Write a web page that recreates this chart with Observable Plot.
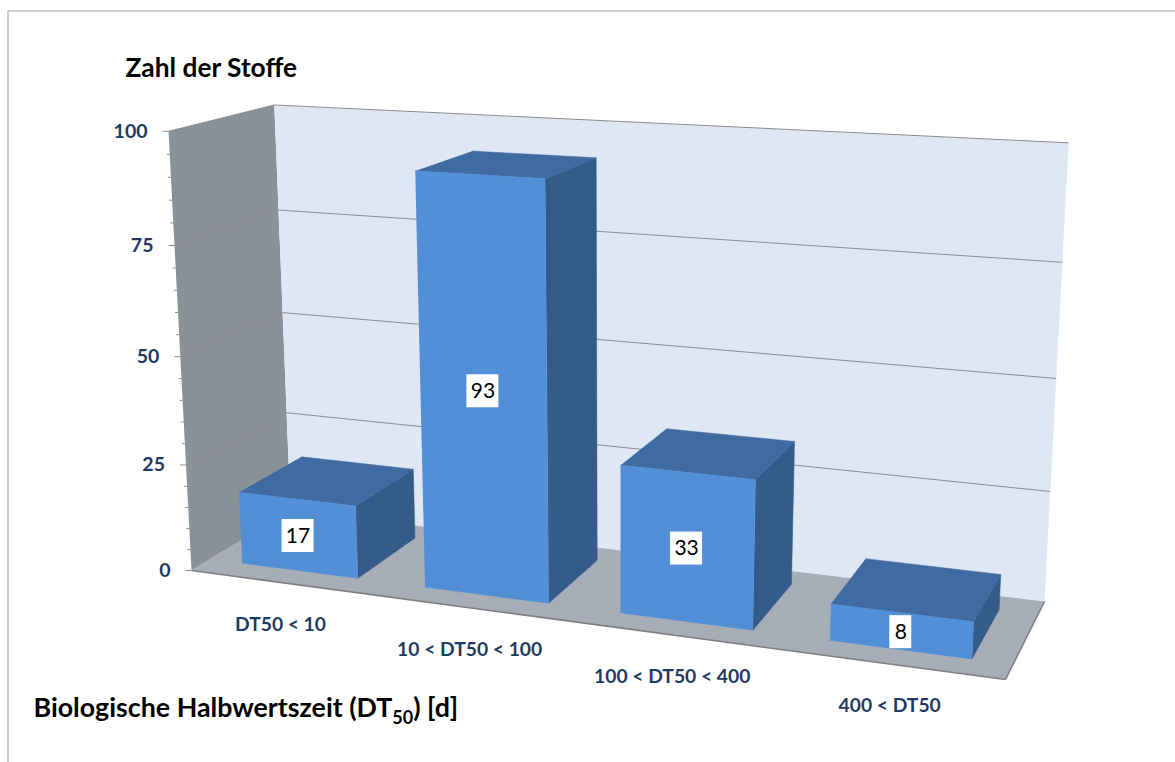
<!DOCTYPE html>
<html lang="de">
<head>
<meta charset="utf-8">
<title>Zahl der Stoffe</title>
<script src="https://cdn.jsdelivr.net/npm/d3@7"></script>
<script src="https://cdn.jsdelivr.net/npm/@observablehq/plot@0.6"></script>
<style>
  html, body { margin: 0; padding: 0; background: #fff; }
  svg { display: block; }
</style>
</head>
<body>
<div id="chart"></div>
<script>
// Chart data
const categories = ["DT50 < 10", "10 < DT50 < 100", "100 < DT50 < 400", "400 < DT50"];
const counts = [17, 93, 33, 8];
const majorTicks = [0, 25, 50, 75, 100];
const minorTicks = [5, 10, 15, 20, 30, 35, 40, 45, 55, 60, 65, 70, 80, 85, 90, 95];
const valueMax = 100;

// Camera: where the floor corners and the vertical vanishing point fall on the page
const floorFrontLeft = [191, 570];
const floorFrontRight = [1005, 679];
const floorBackRight = [1044, 601];
const floorBackLeft = [290, 510];
const wallTopBackLeft = 103;
const wallTopBackRight = 144;
const verticalVanish = [617, 8709];
const barInset = 0.18;   // share of a category cell left free on each side

const colors = {
  sideWall: "#8b9199",
  backWall: "#dee7f3",
  floor: "#a7adb6",
  grid: "#8c8c8c",
  sideGrid: "#8f8a87",
  floorEdge: "#7d7d7d",
  frame: "#bfbfbf",
  front: "#538fd7",
  top: "#406ba2",
  side: "#345b8a",
  axisText: "#1f3a5f"
};

// Perspective mapping of the unit floor square (closed-form square-to-quad)
const [x0, y0] = floorFrontLeft, [x1, y1] = floorFrontRight,
      [x2, y2] = floorBackRight, [x3, y3] = floorBackLeft;
const dx1 = x1 - x2, dx2 = x3 - x2, sx = x0 - x1 + x2 - x3;
const dy1 = y1 - y2, dy2 = y3 - y2, sy = y0 - y1 + y2 - y3;
const det = dx1 * dy2 - dx2 * dy1;
const g = (sx * dy2 - dx2 * sy) / det, h = (dx1 * sy - sx * dy1) / det;
const a = x1 - x0 + g * x1, b = x3 - x0 + h * x3;
const d = y1 - y0 + g * y1, e = y3 - y0 + h * y3;

// Rise per unit of height, taken from the two rear wall corners
const riseAt = (floorY, topY, w) => -(floorY - topY) * w / (verticalVanish[1] - topY);
const rise = (riseAt(y3, wallTopBackLeft, h + 1) + riseAt(y2, wallTopBackRight, g + h + 1)) / 2;

// (category position, depth 0..1, value) -> page position
function project(cat, depth, value) {
  const u = cat / categories.length, v = depth, s = (value / valueMax) * rise;
  const W = g * u + h * v + 1 + s;
  return [
    (a * u + b * v + x0 + s * verticalVanish[0]) / W,
    (d * u + e * v + y0 + s * verticalVanish[1]) / W
  ];
}

// Polygons are rows of {x, y, face, color}, one closed outline per face
const faces = [];
function addFace(face, color, corners) {
  for (const [c, dp, val] of corners) {
    const [x, y] = project(c, dp, val);
    faces.push({x, y, face, color});
  }
}
const n = categories.length;

addFace("side wall", colors.sideWall, [[0, 0, 0], [0, 1, 0], [0, 1, valueMax], [0, 0, valueMax]]);
addFace("back wall", colors.backWall, [[0, 1, 0], [n, 1, 0], [n, 1, valueMax], [0, 1, valueMax]]);
addFace("floor", colors.floor, [[0, 0, 0], [n, 0, 0], [n, 1, 0], [0, 1, 0]]);

const barFaces = [];
function addBar(i, value) {
  const l = i + barInset, r = i + 1 - barInset, f = barInset, k = 1 - barInset;
  const start = faces.length;
  addFace(`bar ${i} side`, colors.side, [[r, f, 0], [r, k, 0], [r, k, value], [r, f, value]]);
  addFace(`bar ${i} top`, colors.top, [[l, f, value], [r, f, value], [r, k, value], [l, k, value]]);
  addFace(`bar ${i} front`, colors.front, [[l, f, 0], [r, f, 0], [r, f, value], [l, f, value]]);
  barFaces.push(...faces.splice(start));
}
counts.forEach((value, i) => addBar(i, value));

// Grid lines run from the wall's front edge to the rear corner and across the back wall
const link = (from, to, extra = {}) => {
  const [px, py] = project(...from), [qx, qy] = project(...to);
  return {x1: px, y1: py, x2: qx, y2: qy, ...extra};
};
const sideGrid = majorTicks.filter(t => t > 0).map(t => link([0, 0, t], [0, 1, t]));
const backGrid = majorTicks.filter(t => t > 0).map(t => link([0, 1, t], [n, 1, t]));
const floorEdge = [link([0, 0, 0], [n, 0, 0]), link([n, 0, 0], [n, 1, 0])];

const tickMarks = (values, len) => values.map(t => {
  const [x, y] = project(0, 0, t);
  return {x1: x - len, y1: y, x2: x, y2: y};
});

const tickLabels = majorTicks.map(t => {
  const [x, y] = project(0, 0, t);
  return {x: x - 21, y, text: String(t)};
});
const categoryLabels = categories.map((text, i) => {
  const [x, y] = project(i + 0.5, 0, 0);
  return {x: x - 1, y: y + 42, text};
});
const valueLabels = counts.map((value, i) => {
  const [x, y] = project(i + 0.5, barInset, value / 2);
  const half = String(value).length > 1 ? 16 : 11;
  return {x, y: y + 1, text: String(value), x1: x - half, x2: x + half, y1: y + 1 - 16.5, y2: y + 1 + 16.5};
});

// Frame of the chart area: left and top only
const frame = [{x: 7.5, y: 762}, {x: 7.5, y: 10.5}, {x: 1175, y: 10.5}];
const yTitle = [{x: 125, y: 68, text: "Zahl der Stoffe"}];
const xTitle = [{x: 33, y: 708, text: "Biologische Halbwertszeit (DT50) [d]"}];

const fontFamily = "Lato, 'Open Sans', sans-serif";

const chart = Plot.plot({
  width: 1175,
  height: 762,
  margin: 0,
  style: {background: "#fff"},
  x: {domain: [0, 1175], range: [0, 1175], axis: null},
  y: {domain: [0, 762], range: [0, 762], axis: null},
  color: {type: "identity"},
  marks: [
    Plot.line(frame, {x: "x", y: "y", stroke: colors.frame, strokeWidth: 1.5}),
    Plot.line(faces, {x: "x", y: "y", z: "face", fill: "color", stroke: "none"}),
    Plot.link(sideGrid, {x1: "x1", y1: "y1", x2: "x2", y2: "y2", stroke: colors.sideGrid, strokeWidth: 1}),
    Plot.link(backGrid, {x1: "x1", y1: "y1", x2: "x2", y2: "y2", stroke: colors.grid, strokeWidth: 1}),
    Plot.link(floorEdge, {x1: "x1", y1: "y1", x2: "x2", y2: "y2", stroke: colors.floorEdge, strokeWidth: 1.5}),
    Plot.link(tickMarks(majorTicks, 6), {x1: "x1", y1: "y1", x2: "x2", y2: "y2", stroke: colors.grid, strokeWidth: 1}),
    Plot.link(tickMarks(minorTicks, 3), {x1: "x1", y1: "y1", x2: "x2", y2: "y2", stroke: colors.grid, strokeWidth: 1}),
    Plot.line(barFaces, {x: "x", y: "y", z: "face", fill: "color", stroke: "color", strokeWidth: 0.5}),
    Plot.rect(valueLabels, {x1: "x1", x2: "x2", y1: "y1", y2: "y2", fill: "#fff"}),
    Plot.text(valueLabels, {x: "x", y: "y", text: "text", fill: "#000", fontSize: 21, fontFamily}),
    Plot.text(tickLabels, {x: "x", y: "y", text: "text", textAnchor: "end", fill: colors.axisText, fontSize: 19.5, fontWeight: "bold", fontFamily}),
    Plot.text(categoryLabels, {x: "x", y: "y", text: "text", fill: colors.axisText, fontSize: 19.3, fontWeight: "bold", fontFamily}),
    Plot.text(yTitle, {x: "x", y: "y", text: "text", textAnchor: "start", fill: "#000", fontSize: 26.3, fontWeight: "bold", fontFamily}),
    Plot.text(xTitle, {x: "x", y: "y", text: "text", textAnchor: "start", fill: "#000", fontSize: 26.8, fontWeight: "bold", fontFamily})
  ]
});

// Set the 50 in DT50 as a subscript in the horizontal axis title
d3.select(chart).selectAll("text")
  .filter(function () { return this.textContent === xTitle[0].text; })
  .each(function () {
    const node = d3.select(this);
    node.text(null);
    node.append("tspan").text("Biologische Halbwertszeit (DT");
    node.append("tspan").attr("font-size", 18).attr("dy", 7).text("50");
    node.append("tspan").attr("dy", -7).text(") [d]");
  });

document.getElementById("chart").append(chart);
</script>
</body>
</html>
